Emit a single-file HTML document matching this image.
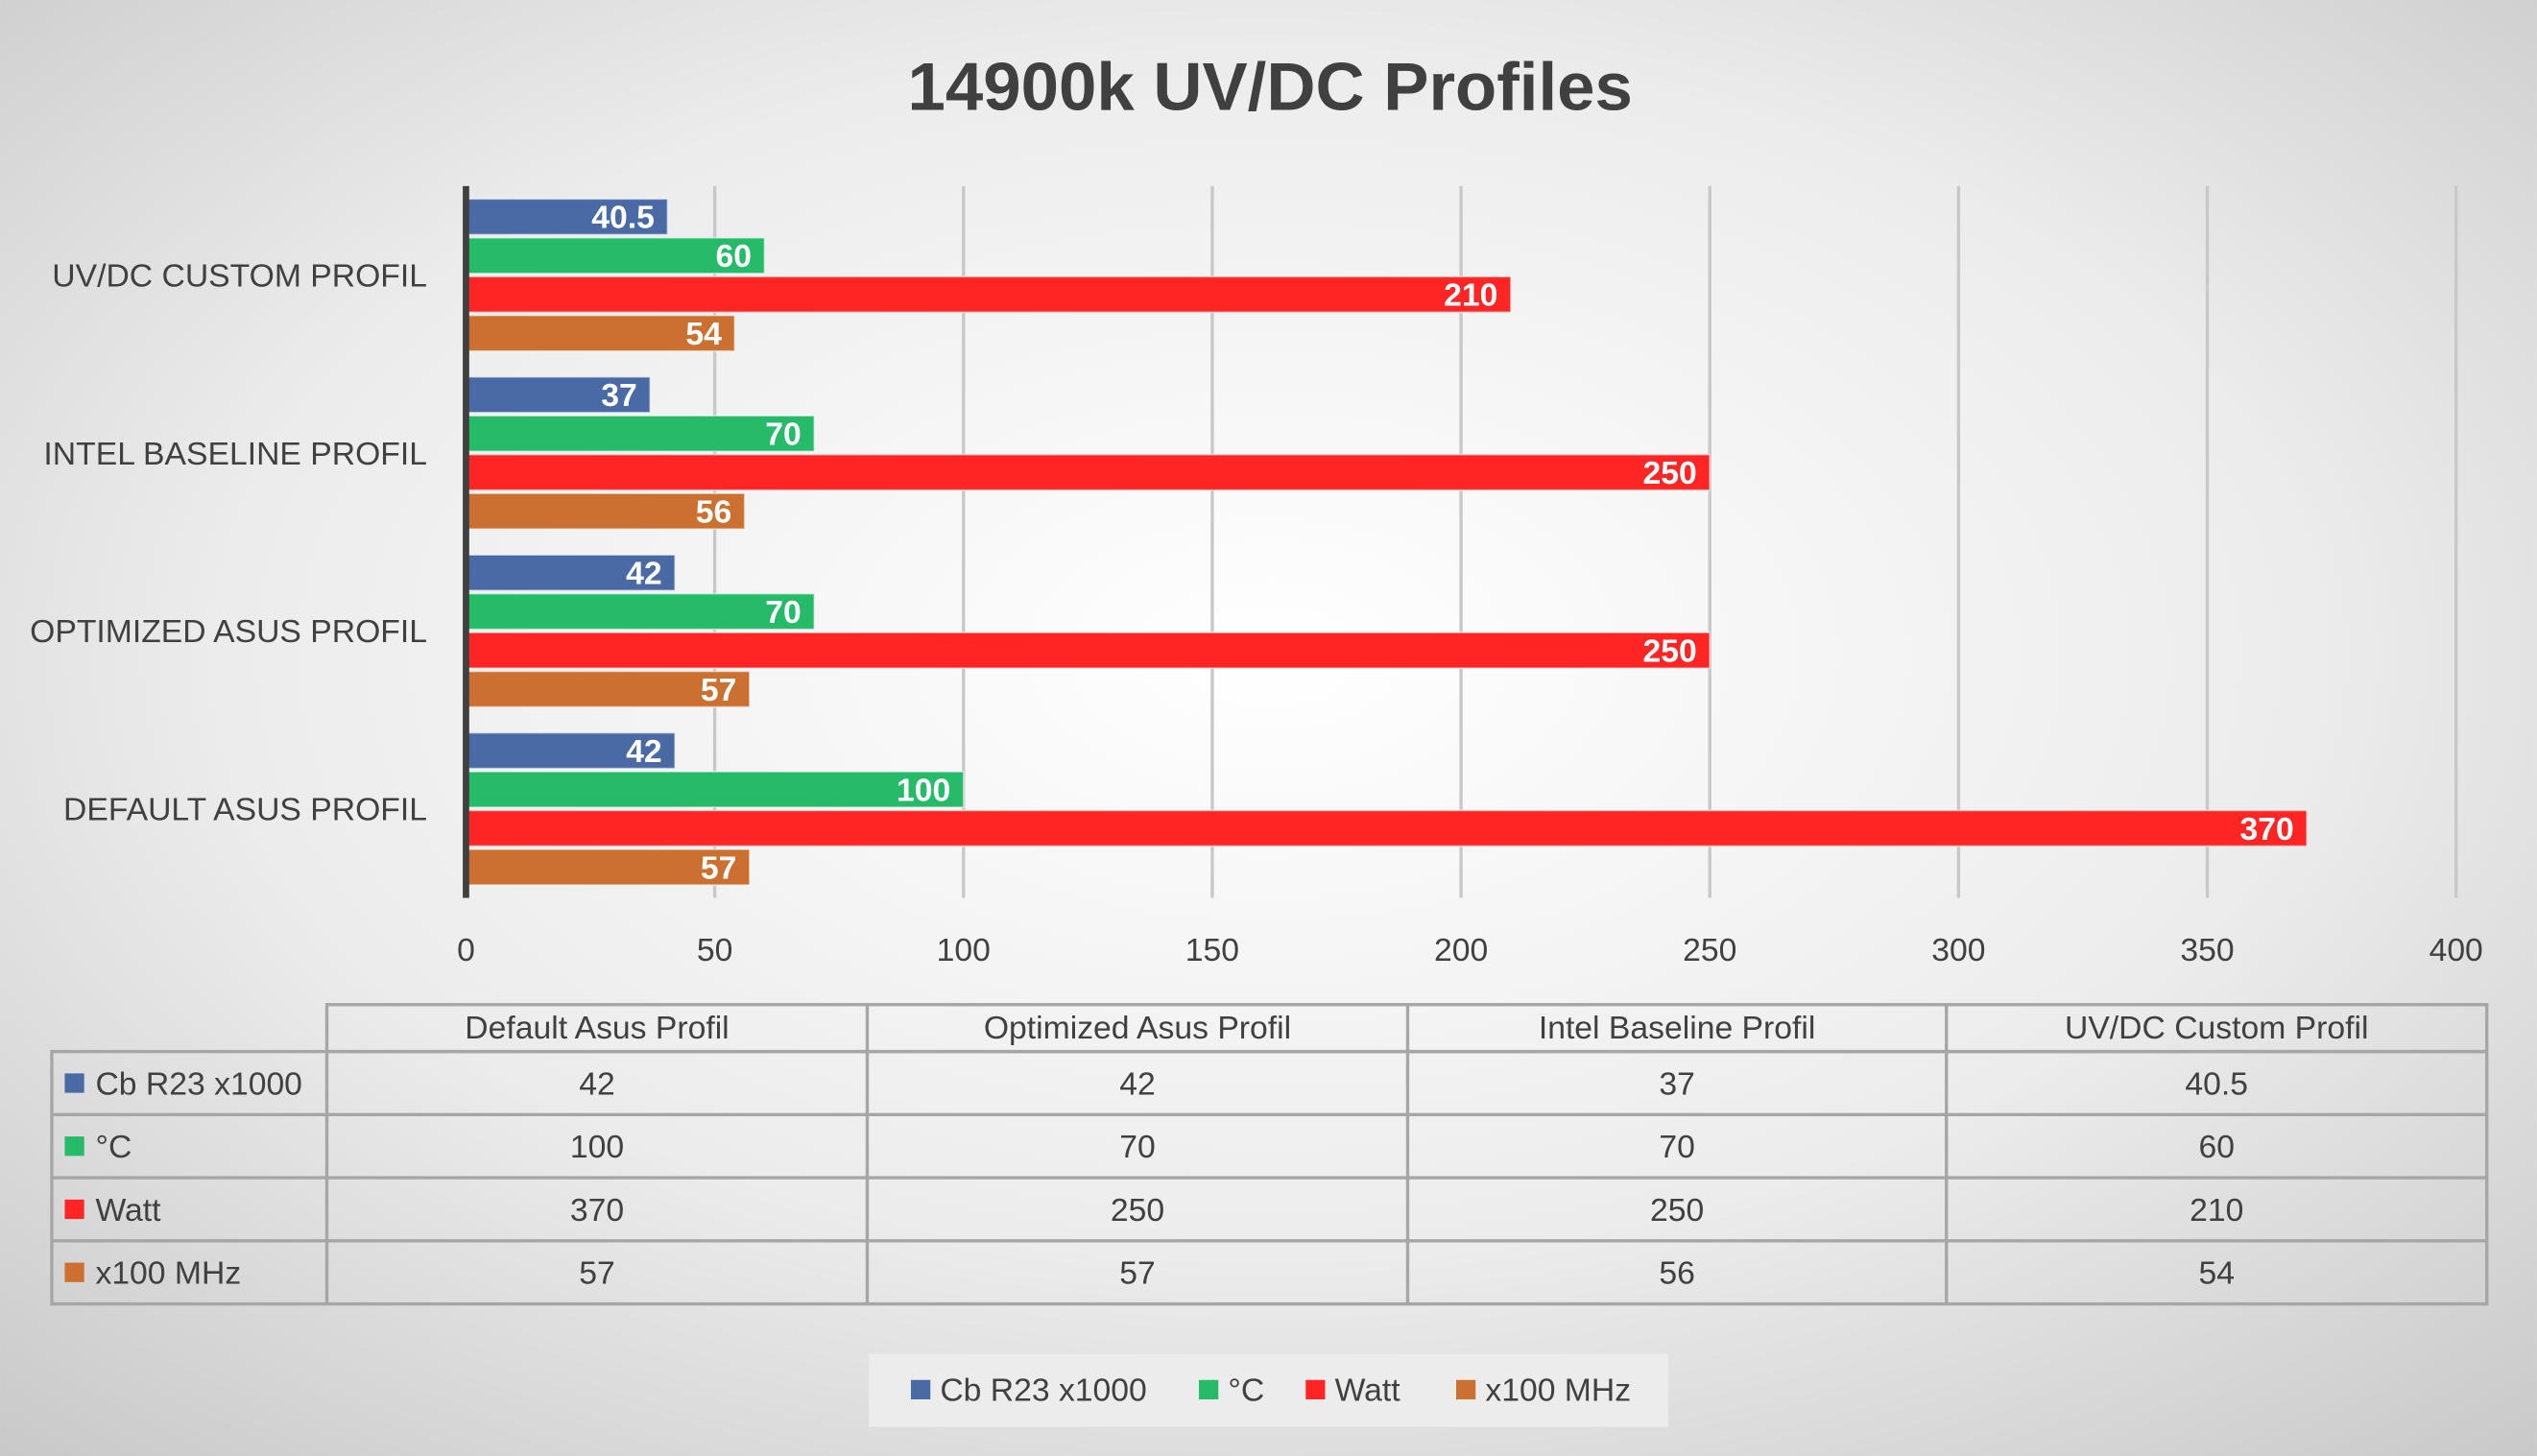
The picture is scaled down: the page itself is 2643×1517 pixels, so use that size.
<!DOCTYPE html>
<html><head><meta charset="utf-8"><style>
html,body{margin:0;padding:0;width:2643px;height:1517px;overflow:hidden}
svg{display:block}
text{font-family:"Liberation Sans","DejaVu Sans",sans-serif}
</style></head><body>
<svg id="chart" width="2643" height="1517" viewBox="0 0 1568 900" xmlns="http://www.w3.org/2000/svg">
<defs>
<radialGradient id="bg" cx="50%" cy="45%" r="75%">
<stop offset="0" stop-color="#ffffff"/><stop offset="0.55" stop-color="#ececec"/><stop offset="1" stop-color="#c8c8c8"/>
</radialGradient>
</defs>
<rect x="0" y="0" width="1568" height="900" fill="url(#bg)"/>
<text x="785" y="68" text-anchor="middle" font-size="42" font-weight="bold" fill="#404040">14900k UV/DC Profiles</text>
<g id="grid"></g>
<g id="bars"></g>
<g id="labels"></g>
<g id="table"></g>
<g id="legend"></g>
</svg>
<script>
const categories = ["Default Asus Profil","Optimized Asus Profil","Intel Baseline Profil","UV/DC Custom Profil"];
const seriesNames = ["Cb R23 x1000","°C","Watt","x100 MHz"];
const cbValues = [42,42,37,40.5];
const tempValues = [100,70,70,60];
const wattValues = [370,250,250,210];
const mhzValues = [57,57,56,54];
const xTicks = [0,50,100,150,200,250,300,350,400];
const colors = ["#4a6aa5","#26bb68","#ff2525","#cb7030"];
const series=[cbValues,tempValues,wattValues,mhzValues];
const NS="http://www.w3.org/2000/svg";
function mk(tag,attrs,parent,txt){const e=document.createElementNS(NS,tag);for(const k in attrs)e.setAttribute(k,attrs[k]);if(txt!==undefined)e.textContent=txt;parent.appendChild(e);return e;}
const X0=288,X1=1518,TOP=115,BOT=555,xmax=400;
const xs=v=>X0+(v/xmax)*(X1-X0);
const band=(BOT-TOP)/categories.length;
// category index i from bottom: Default at bottom
const bandTop=i=>TOP+(categories.length-1-i)*band;
const grid=document.getElementById('grid');
xTicks.forEach(t=>{
  if(t>0){const l=mk('line',{x1:xs(t),x2:xs(t),y1:TOP,y2:BOT,stroke:'#c8c8c8','stroke-width':2},grid);
  }
  const tx=mk('text',{x:xs(t),y:594,'text-anchor':'middle','font-size':20,fill:'#404040'},grid,t);
  
});
const bars=document.getElementById('bars'),labels=document.getElementById('labels');
categories.forEach((c,i)=>{
  const bt=bandTop(i);
  series.forEach((s,j)=>{
    const y=bt+8+j*24,v=s[i];
    const r=mk('rect',{x:X0,y:y,width:xs(v)-X0,height:22,fill:colors[j],stroke:'rgba(255,255,255,0.5)','stroke-width':1},bars);
    
    const t=mk('text',{x:xs(v)-8,y:y+18,'text-anchor':'end','font-size':20,'font-weight':'bold',fill:'#fff'},labels,v);
    
  });
  const cl=mk('text',{x:264,y:bt+band/2+7,'text-anchor':'end','font-size':20,fill:'#404040'},labels,c.toUpperCase());
  
});
const ax=mk('line',{x1:X0,x2:X0,y1:TOP,y2:BOT,stroke:'#404040','stroke-width':4},labels);

// table
const tb=document.getElementById('table');
const colX=[202,536,870,1203,1537],rowY=[621,650,689,728,767,806],TL=32;
const st={stroke:'#a6a6a6','stroke-width':2,fill:'none'};
let e=mk('rect',Object.assign({x:colX[0],y:rowY[0],width:colX[4]-colX[0],height:rowY[1]-rowY[0]},st),tb);

e=mk('rect',Object.assign({x:TL,y:rowY[1],width:colX[4]-TL,height:rowY[5]-rowY[1]},st),tb);

for(let k=1;k<4;k++){e=mk('line',{x1:colX[k],x2:colX[k],y1:rowY[0],y2:rowY[5],stroke:'#a6a6a6','stroke-width':2},tb);}
e=mk('line',{x1:colX[0],x2:colX[0],y1:rowY[1],y2:rowY[5],stroke:'#a6a6a6','stroke-width':2},tb);
for(let r=2;r<5;r++){e=mk('line',{x1:TL,x2:colX[4],y1:rowY[r],y2:rowY[r],stroke:'#a6a6a6','stroke-width':2},tb);}
categories.forEach((c,k)=>{e=mk('text',{x:(colX[k]+colX[k+1])/2,y:642,'text-anchor':'middle','font-size':20,fill:'#404040'},tb,c);});
seriesNames.forEach((n,j)=>{
  const cy=(rowY[j+1]+rowY[j+2])/2;
  e=mk('rect',{x:40,y:cy-6,width:12,height:12,fill:colors[j]},tb);
  e=mk('text',{x:59,y:cy+7,'font-size':20,fill:'#404040'},tb,n);
  categories.forEach((c,k)=>{e=mk('text',{x:(colX[k]+colX[k+1])/2,y:cy+7,'text-anchor':'middle','font-size':20,fill:'#404040'},tb,series[j][k]);});
});
// legend
const lg=document.getElementById('legend');
e=mk('rect',{x:537,y:837,width:494,height:45,fill:'#ececec'},lg);
const lx=[563,741,807,900];
seriesNames.forEach((n,j)=>{
  e=mk('rect',{x:lx[j],y:853,width:12,height:12,fill:colors[j]},lg);
  e=mk('text',{x:lx[j]+18,y:866,'font-size':20,fill:'#404040'},lg,n);
});
</script>
</body></html>
